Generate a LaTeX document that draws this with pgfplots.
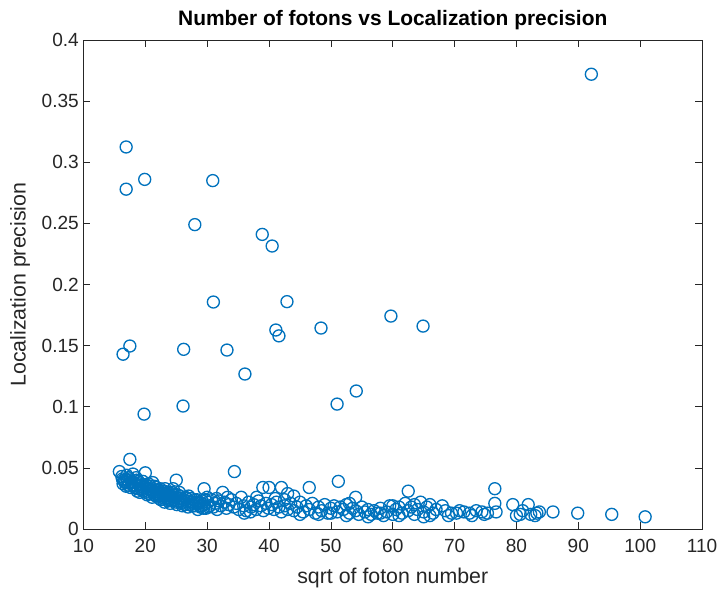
\documentclass[border=0pt]{standalone}
\usepackage{fontspec}
\setmainfont{Liberation Sans}
\usepackage{pgfplots}
\pgfplotsset{compat=1.18}
\definecolor{mblue}{RGB}{0,114,189}
\definecolor{axgray}{RGB}{38,38,38}
\begin{document}
\begin{tikzpicture}
\begin{axis}[
  at={(0,0)}, anchor=south west,
  scale only axis, width=463.9pt, height=366.75pt,
  xmin=10, xmax=110, ymin=0, ymax=0.4,
  xtick={10,20,...,110},
  ytick={0,0.05,...,0.4},
  yticklabels={0,0.05,0.1,0.15,0.2,0.25,0.3,0.35,0.4},
  scaled y ticks=false,
  tick align=inside,
  major tick length=5pt,
  axis line style={axgray, line width=0.6pt},
  every tick/.style={axgray, line width=0.6pt},
  tick label style={font=\fontsize{14.3pt}{16pt}\selectfont, text=axgray},
  xticklabel style={yshift=-4pt},
  /pgf/number format/assume math mode=true,
  title={Number of fotons vs Localization precision},
  every axis title/.style={at={(axis description cs:0.5,1)}, yshift=15pt, anchor=center, font=\fontsize{15.7pt}{18pt}\selectfont\bfseries},
  xlabel={sqrt of foton number},
  ylabel={Localization precision},
  every axis x label/.style={at={(axis description cs:0.5,0)}, yshift=-36.75pt, anchor=center, font=\fontsize{16pt}{18pt}\selectfont, text=axgray},
  every axis y label/.style={at={(axis description cs:0,0.5)}, xshift=-47.6pt, rotate=90, anchor=center, font=\fontsize{16pt}{18pt}\selectfont, text=axgray},
]
\addplot[only marks, mark=o, mark size=4.5pt, mblue, mark options={line width=1pt}] coordinates {
(92.1,0.372)(16.9,0.3125)(16.9,0.278)(19.9,0.286)(30.9,0.285)(28.0,0.249)
(38.9,0.241)(40.5,0.2315)(31.0,0.1857)(42.9,0.186)(41.1,0.1628)(41.6,0.158)
(48.4,0.1644)(59.7,0.1742)(64.9,0.166)(16.4,0.143)(17.5,0.1497)(26.2,0.147)
(33.2,0.1464)(36.1,0.1268)(54.1,0.1129)(51.0,0.1022)(26.1,0.1006)(19.8,0.094)
(15.8,0.047)(16.2,0.043)(16.5,0.040)(16.8,0.038)(17.0,0.044)(17.2,0.036)(17.5,0.041)(17.8,0.039)(18.0,0.045)(16.4,0.037)
(16.9,0.035)(17.3,0.042)(17.6,0.034)(18.2,0.038)(18.4,0.036)(18.6,0.040)(18.8,0.033)(19.0,0.037)(19.2,0.035)(17.5,0.057)
(19.4,0.032)(19.6,0.039)(19.8,0.034)(20.0,0.046)(20.0,0.030)(20.2,0.036)(20.4,0.033)(20.6,0.029)(20.8,0.035)(21.0,0.031)
(21.2,0.038)(21.4,0.028)(21.6,0.032)(21.8,0.034)(22.0,0.027)(22.2,0.030)(22.4,0.033)(22.6,0.026)(22.8,0.029)(19.1,0.030)
(18.7,0.031)(21.1,0.026)(20.5,0.037)
(16.6,0.039)(17.1,0.040)(17.9,0.036)(18.3,0.034)(18.9,0.039)(19.3,0.033)(19.7,0.031)(20.1,0.034)(20.3,0.028)(20.9,0.032)
(21.3,0.030)(21.5,0.035)(21.9,0.029)(22.1,0.032)(22.3,0.025)(22.7,0.031)(22.9,0.027)(23.3,0.029)(23.5,0.026)(23.7,0.023)
(23.9,0.028)(24.1,0.025)(24.3,0.030)(24.7,0.024)(24.9,0.026)(25.2,0.028)(25.4,0.023)(25.8,0.025)(26.1,0.022)(26.4,0.020)
(26.7,0.025)(27.3,0.022)(27.6,0.019)(27.9,0.024)(28.2,0.021)(28.8,0.022)(29.1,0.019)(29.4,0.017)(29.7,0.024)(30.2,0.018)
(16.3,0.041)(17.4,0.038)(18.5,0.042)(19.5,0.036)(20.7,0.033)(21.7,0.027)(22.4,0.028)(23.2,0.033)(24.0,0.021)(25.1,0.020)
(23.0,0.031)(23.2,0.025)(23.4,0.028)(23.6,0.030)(23.8,0.024)(24.0,0.027)(24.2,0.029)(24.4,0.023)(24.6,0.026)(24.8,0.028)
(25.0,0.040)(25.0,0.022)(25.3,0.025)(25.6,0.027)(25.9,0.021)(26.2,0.024)(26.5,0.026)(23.1,0.022)(24.5,0.033)(25.5,0.030)
(22.5,0.024)(26.0,0.019)
(26.8,0.023)(27.1,0.020)(27.4,0.025)(27.7,0.022)(28.0,0.019)(28.3,0.024)(28.6,0.021)(28.9,0.018)(29.2,0.023)(29.5,0.033)
(29.5,0.020)(29.8,0.017)(30.1,0.022)(30.4,0.019)(30.7,0.024)(31.0,0.018)(31.3,0.021)(31.6,0.016)(31.9,0.023)(32.2,0.019)
(32.5,0.030)(27.0,0.027)(28.5,0.016)(30.0,0.026)(31.5,0.025)(26.9,0.018)
(32.8,0.022)(33.1,0.017)(33.5,0.020)(33.9,0.024)(34.3,0.018)(34.4,0.047)(34.7,0.021)(35.1,0.016)(35.5,0.026)(35.9,0.019)
(36.3,0.015)(36.7,0.022)(37.1,0.018)(37.5,0.020)(37.9,0.016)(38.3,0.023)(38.7,0.019)(39.0,0.034)(39.1,0.015)(39.5,0.021)
(39.9,0.017)(40.0,0.034)(33.3,0.026)(36.0,0.013)(38.0,0.026)(37.0,0.014)
(40.4,0.020)(40.8,0.016)(41.2,0.022)(41.6,0.018)(42.0,0.034)(42.0,0.014)(42.5,0.019)(43.0,0.029)(43.0,0.016)(43.5,0.021)
(44.0,0.027)(44.0,0.015)(44.5,0.018)(45.0,0.022)(45.5,0.014)(46.0,0.019)(46.5,0.034)(46.5,0.016)(47.0,0.021)(47.5,0.013)
(48.0,0.018)(48.5,0.015)(49.0,0.020)(49.5,0.013)(50.0,0.017)(41.0,0.025)(45.0,0.012)(48.0,0.012)(42.5,0.024)
(50.5,0.019)(51.0,0.014)(51.2,0.039)(51.5,0.018)(52.0,0.016)(52.5,0.020)(53.0,0.013)(53.5,0.017)(54.0,0.026)(54.0,0.015)
(54.5,0.012)(55.0,0.018)(55.5,0.014)(56.0,0.016)(56.5,0.012)(57.0,0.015)(57.5,0.013)(58.0,0.017)(58.5,0.011)(59.0,0.014)
(59.5,0.019)(60.0,0.012)(50.0,0.013)(52.5,0.011)(53.0,0.021)(58.0,0.013)(56.0,0.010)
(60.5,0.016)(61.0,0.018)(61.5,0.013)(62.0,0.021)(62.5,0.031)(62.5,0.015)(63.0,0.018)(63.5,0.012)(64.0,0.016)(64.5,0.022)
(65.0,0.014)(65.0,0.010)(65.5,0.018)(66.0,0.020)(66.5,0.013)(67.0,0.016)(68.0,0.019)(68.5,0.015)(69.0,0.011)(69.5,0.013)
(70.3,0.013)(70.8,0.015)(60.0,0.019)(61.0,0.011)(63.5,0.020)(66.0,0.011)
(71.5,0.014)(72.4,0.013)(72.8,0.011)(73.5,0.015)(74.4,0.014)(74.8,0.012)(75.3,0.013)(76.5,0.033)(76.5,0.021)(76.7,0.014)
(79.4,0.020)(80.0,0.011)
(80.6,0.012)(81.0,0.015)(81.9,0.020)(82.3,0.012)(83.0,0.011)(83.3,0.013)(83.7,0.014)(85.9,0.014)(89.9,0.013)(95.4,0.012)
(100.8,0.010)
};
\end{axis}
\pgfresetboundingbox
\path[use as bounding box] (-62.6pt,-45.75pt) rectangle (476.6pt,396.75pt);
\end{tikzpicture}
\end{document}
